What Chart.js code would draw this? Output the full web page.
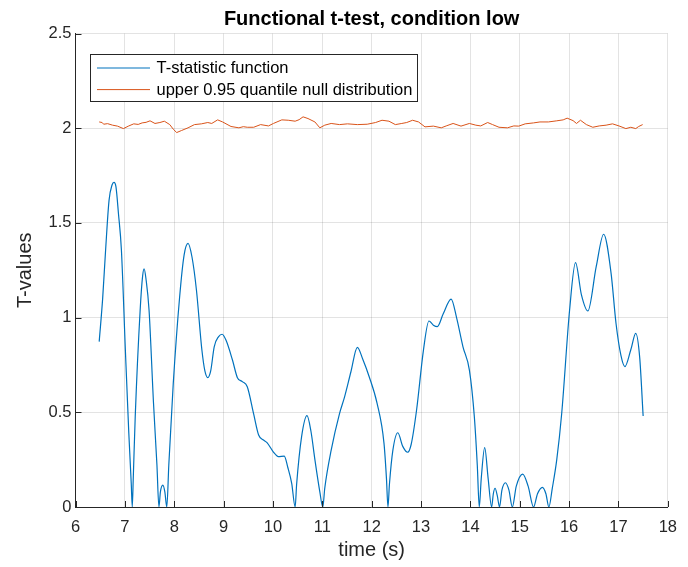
<!DOCTYPE html>
<html>
<head>
<meta charset="utf-8">
<title>Functional t-test, condition low</title>
<script src="https://cdn.jsdelivr.net/npm/chart.js@4/dist/chart.umd.min.js"></script>
<style>
  html, body { margin: 0; padding: 0; background: #fff; }
  #wrap { width: 688px; height: 567px; }
</style>
</head>
<body>
<div id="wrap"><canvas id="myChart" width="688" height="567"></canvas></div>
<script>
// ============= chart data =============
const chartTitle = 'Functional t-test, condition low';
const xLabel = 'time (s)';
const yLabel = 'T-values';
const xTicks = [6, 7, 8, 9, 10, 11, 12, 13, 14, 15, 16, 17, 18];
const yTicks = [0, 0.5, 1, 1.5, 2, 2.5];
const yTickLabels = ['0', '0.5', '1', '1.5', '2', '2.5'];

const tLabel = 'T-statistic function';
const tTime = [6.48, 6.55, 6.61, 6.68, 6.74, 6.78, 6.82, 6.87, 6.93, 7.01, 7.08, 7.13, 7.15, 7.17, 7.21, 7.31, 7.36, 7.39, 7.43, 7.49,
  7.58, 7.65, 7.69, 7.72, 7.77, 7.81, 7.85, 7.89, 7.98, 8.11, 8.20, 8.28, 8.36, 8.45, 8.56, 8.62, 8.68, 8.74, 8.81, 8.90,
  8.97, 9.05, 9.18, 9.28, 9.38, 9.48, 9.61, 9.71, 9.80, 9.88, 10.01, 10.11, 10.23, 10.30, 10.38, 10.45, 10.48, 10.58, 10.69, 10.77,
  10.85, 10.95, 11.01, 11.05, 11.18, 11.35, 11.45, 11.58, 11.71, 11.82, 11.95, 12.11, 12.25, 12.30, 12.33, 12.36, 12.43, 12.53, 12.63, 12.73,
  12.80, 12.91, 13.05, 13.16, 13.25, 13.33, 13.45, 13.61, 13.72, 13.85, 13.98, 14.08, 14.14, 14.18, 14.22, 14.29, 14.36, 14.43, 14.465, 14.50,
  14.545, 14.59, 14.64, 14.71, 14.78, 14.85, 14.93, 15.06, 15.17, 15.28, 15.36, 15.46, 15.53, 15.59, 15.66, 15.75, 15.85, 16.01, 16.13, 16.25,
  16.38, 16.55, 16.70, 16.85, 16.95, 17.05, 17.13, 17.25, 17.35, 17.43, 17.50];
const tValue = [0.873, 1.10, 1.357, 1.62, 1.70, 1.714, 1.69, 1.55, 1.357, 0.83, 0.39, 0.12, 0, 0.15, 0.477, 1.04, 1.22, 1.257, 1.20, 1.04,
  0.55, 0.22, 0, 0.08, 0.116, 0.08, 0, 0.22, 0.65, 1.11, 1.33, 1.392, 1.32, 1.146, 0.83, 0.72, 0.683, 0.72, 0.846, 0.90,
  0.912, 0.88, 0.776, 0.683, 0.662, 0.635, 0.49, 0.38, 0.355, 0.34, 0.29, 0.266, 0.269, 0.21, 0.125, 0, 0.12, 0.37, 0.482, 0.40,
  0.25, 0.08, 0, 0.10, 0.30, 0.494, 0.58, 0.714, 0.843, 0.78, 0.688, 0.547, 0.336, 0.15, 0, 0.12, 0.30, 0.392, 0.32, 0.289,
  0.33, 0.512, 0.83, 0.982, 0.96, 0.952, 1.02, 1.098, 1.00, 0.846, 0.723, 0.477, 0.22, 0, 0.15, 0.313, 0.15, 0, 0.07, 0.099,
  0.06, 0, 0.09, 0.128, 0.09, 0, 0.11, 0.174, 0.11, 0, 0.07, 0.104, 0.07, 0, 0.10, 0.25, 0.494, 1.04, 1.29, 1.12,
  1.035, 1.27, 1.44, 1.235, 0.97, 0.80, 0.741, 0.83, 0.917, 0.79, 0.48];

const qLabel = 'upper 0.95 quantile null distribution';
const qTime = [6.48, 6.54, 6.57, 6.65, 6.75, 6.85, 6.97, 7.08, 7.18, 7.27, 7.35, 7.43, 7.51, 7.61, 7.71, 7.80, 7.91, 7.98, 8.05, 8.15,
  8.28, 8.41, 8.55, 8.68, 8.76, 8.88, 8.98, 9.15, 9.31, 9.40, 9.48, 9.61, 9.75, 9.91, 10.01, 10.18, 10.31, 10.45, 10.53, 10.61,
  10.71, 10.85, 10.95, 11.05, 11.18, 11.35, 11.51, 11.71, 11.91, 12.08, 12.21, 12.35, 12.48, 12.61, 12.71, 12.83, 12.95, 13.08, 13.25, 13.41,
  13.51, 13.65, 13.81, 13.98, 14.11, 14.21, 14.35, 14.45, 14.58, 14.75, 14.88, 14.98, 15.11, 15.28, 15.41, 15.58, 15.75, 15.88, 15.96, 16.08,
  16.15, 16.23, 16.35, 16.48, 16.61, 16.75, 16.88, 17.01, 17.15, 17.25, 17.35, 17.41, 17.49];
const qValue = [2.033, 2.030, 2.021, 2.024, 2.016, 2.011, 1.998, 2.012, 2.023, 2.020, 2.028, 2.031, 2.039, 2.025, 2.030, 2.037, 2.019, 1.995, 1.977, 1.988,
  2.002, 2.019, 2.023, 2.030, 2.025, 2.044, 2.033, 2.009, 2.002, 2.008, 2.005, 2.005, 2.019, 2.012, 2.025, 2.044, 2.042, 2.037, 2.045, 2.060,
  2.051, 2.033, 2.002, 2.016, 2.025, 2.019, 2.023, 2.019, 2.021, 2.030, 2.042, 2.037, 2.019, 2.025, 2.030, 2.042, 2.033, 2.007, 2.011, 2.002,
  2.012, 2.025, 2.011, 2.025, 2.016, 2.012, 2.030, 2.019, 2.005, 2.002, 2.012, 2.011, 2.023, 2.028, 2.033, 2.033, 2.039, 2.044, 2.053, 2.040,
  2.025, 2.042, 2.019, 2.005, 2.012, 2.016, 2.023, 2.012, 1.998, 2.005, 1.998, 2.009, 2.019];

document.addEventListener('DOMContentLoaded', function () {
    (function () {
// ============= styles =====================
        const FONT = "'Liberation Sans', Arial, Helvetica, sans-serif";
        const axisColor = '#262626';
        const gridColor = 'rgba(38,38,38,0.13)';
        const blue = '#0072BD';
        const orange = '#D95319';

        function toPoints(xs, ys) {
            return xs.map((x, i) => ({ x: x, y: ys[i] }));
        }

// ============= inward tick marks (matlab style) =====================
        const innerTicks = {
            id: 'innerTicks',
            afterDraw(chart) {
                const ctx = chart.ctx;
                const area = chart.chartArea;
                const xs = chart.scales.x, ys = chart.scales.y;
                ctx.save();
                ctx.strokeStyle = axisColor;
                ctx.lineWidth = 1;
                ctx.beginPath();
                xTicks.forEach(v => {
                    const px = Math.round(xs.getPixelForValue(v)) + 0.5;
                    ctx.moveTo(px, area.bottom);
                    ctx.lineTo(px, area.bottom - 6);
                });
                yTicks.forEach(v => {
                    const py = Math.round(ys.getPixelForValue(v)) + 0.5;
                    ctx.moveTo(area.left, py);
                    ctx.lineTo(area.left + 6, py);
                });
                ctx.stroke();
                ctx.restore();
            }
        };

// ============= boxed legend inside the axes =====================
        const boxLegend = {
            id: 'boxLegend',
            afterDraw(chart) {
                const ctx = chart.ctx;
                const area = chart.chartArea;
                const sets = chart.data.datasets;
                const x0 = Math.round(area.left + 14.5) + 0.5;
                const y0 = Math.round(area.top + 20) + 0.5;
                ctx.save();
                ctx.font = '16.5px ' + FONT;
                let w = 0;
                sets.forEach(ds => { w = Math.max(w, ctx.measureText(ds.label).width); });
                const boxW = Math.round(6.5 + 53 + 6 + w + 6);
                const boxH = 47;
                ctx.fillStyle = '#fff';
                ctx.fillRect(x0, y0, boxW, boxH);
                ctx.strokeStyle = axisColor;
                ctx.lineWidth = 1;
                ctx.strokeRect(x0, y0, boxW, boxH);
                sets.forEach((ds, i) => {
                    const yy = y0 + 13.5 + i * 21.6;
                    ctx.strokeStyle = ds.borderColor;
                    ctx.lineWidth = ds.borderWidth;
                    ctx.beginPath();
                    ctx.moveTo(x0 + 6.5, yy);
                    ctx.lineTo(x0 + 59.5, yy);
                    ctx.stroke();
                    ctx.fillStyle = '#000';
                    ctx.textBaseline = 'middle';
                    ctx.fillText(ds.label, x0 + 66, yy + 0.5);
                });
                ctx.restore();
            }
        };

// ============ CHART =================
        var ctx = document.querySelector('#myChart').getContext('2d');
        var chart = new Chart(ctx, {
            type: 'line',
            data: {
                datasets: [{
                    label: tLabel,
                    data: toPoints(tTime, tValue),
                    borderColor: blue,
                    borderWidth: 1.2,
                    pointRadius: 0,
                    cubicInterpolationMode: 'monotone',
                    fill: false
                }, {
                    label: qLabel,
                    data: toPoints(qTime, qValue),
                    borderColor: orange,
                    borderWidth: 1,
                    pointRadius: 0,
                    tension: 0,
                    fill: false
                }]
            },
            options: {
                responsive: false,
                animation: false,
                devicePixelRatio: 1,
                layout: { padding: { left: 0, right: 12, top: 0, bottom: 0 } },
                plugins: {
                    legend: { display: false },
                    tooltip: { enabled: false },
                    title: {
                        display: true,
                        fullSize: false, // centre over the axes, like matlab
                        text: chartTitle,
                        color: '#000',
                        font: { family: FONT, size: 20, weight: 'bold', lineHeight: 1.2 },
                        padding: { top: 7, bottom: 2.5 }
                    }
                },
                scales: {
                    x: {
                        type: 'linear',
                        min: 6,
                        max: 18,
                        afterBuildTicks: s => { s.ticks = xTicks.map(v => ({ value: v })); },
                        afterFit: s => { s.height = 60; },
                        grid: { color: gridColor, drawTicks: false },
                        border: { color: axisColor, width: 1 },
                        ticks: { color: axisColor, font: { family: FONT, size: 16.5 }, padding: 11, maxRotation: 0, autoSkip: false,
                            callback: v => String(v) },
                        title: { display: true, text: xLabel, color: axisColor, font: { family: FONT, size: 20 }, padding: { top: 0, bottom: 5 } }
                    },
                    y: {
                        type: 'linear',
                        min: 0,
                        max: 2.5,
                        afterBuildTicks: s => { s.ticks = yTicks.map(v => ({ value: v })); },
                        afterFit: s => { s.width = 75.5; },
                        grid: { color: gridColor, drawTicks: false },
                        border: { color: axisColor, width: 1 },
                        ticks: { color: axisColor, font: { family: FONT, size: 16.5 }, padding: 4,
                            callback: (v, i) => yTickLabels[yTicks.indexOf(v)] },
                        title: { display: true, text: yLabel, color: axisColor, font: { family: FONT, size: 20 }, padding: { top: 13, bottom: 0 } }
                    }
                }
            },
            plugins: [innerTicks, boxLegend]
        });
// ============= end of CHART ==============
    })(); //end of main function
}); //end of doc event listener
</script>
</body>
</html>
